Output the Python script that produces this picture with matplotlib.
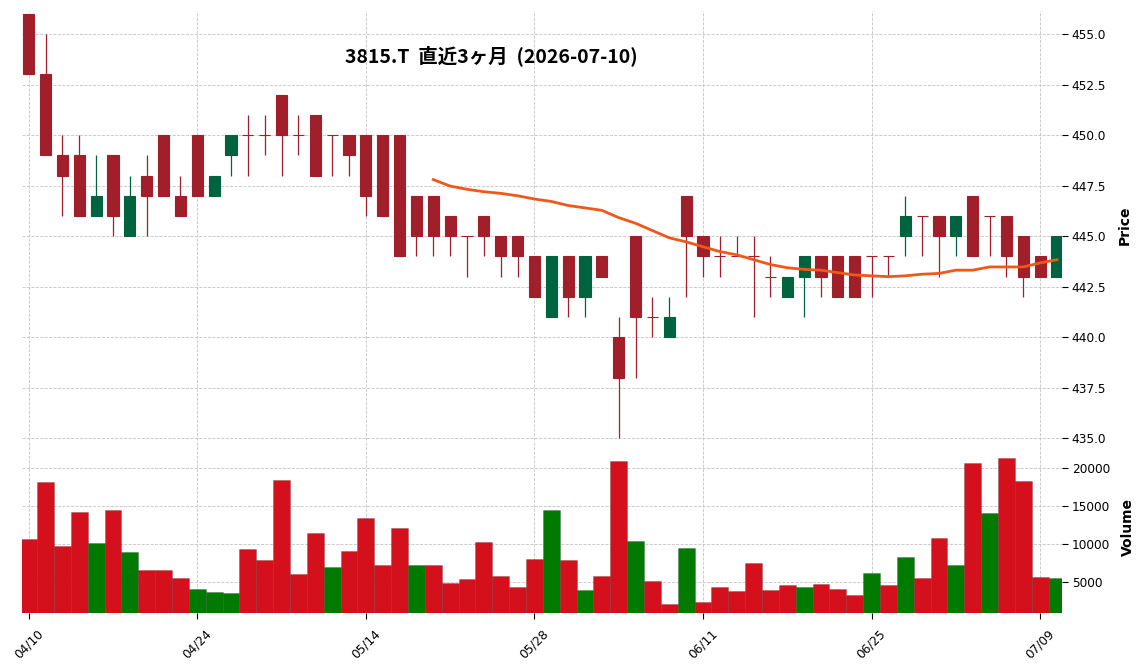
import numpy as np
import pandas as pd
import matplotlib
matplotlib.use('Agg')
import matplotlib.pyplot as plt

# trading days (TSE holidays removed)
holidays = ['2026-04-29', '2026-05-04', '2026-05-05', '2026-05-06']
dates = pd.bdate_range('2026-04-10', '2026-07-10', freq='C', holidays=holidays)

opens = [456, 453, 449, 449, 446, 449, 445, 448, 450, 447,
         450, 447, 449, 450, 450, 452, 450, 451, 450, 450,
         450, 450, 450, 447, 447, 446, 445, 446, 445, 445,
         444, 441, 444, 442, 444, 440, 445, 441, 440, 447,
         445, 444, 444, 444, 443, 442, 443, 444, 444, 444,
         444, 444, 445, 446, 446, 445, 447, 446, 446, 445,
         444, 443]
highs = [456, 455, 450, 450, 449, 449, 448, 449, 450, 448,
         450, 448, 450, 451, 451, 452, 451, 451, 450, 450,
         450, 450, 450, 447, 447, 446, 445, 446, 445, 445,
         444, 444, 444, 444, 444, 441, 445, 442, 442, 447,
         445, 445, 445, 445, 444, 443, 444, 444, 444, 444,
         444, 444, 447, 446, 446, 446, 447, 446, 446, 445,
         444, 445]
lows = [453, 449, 446, 446, 446, 445, 445, 445, 447, 446,
        447, 447, 448, 448, 449, 448, 449, 448, 448, 448,
        446, 446, 444, 444, 444, 444, 443, 444, 443, 443,
        442, 441, 441, 441, 443, 435, 438, 440, 440, 442,
        443, 443, 444, 441, 442, 442, 441, 442, 442, 442,
        442, 443, 444, 444, 443, 444, 444, 444, 443, 442,
        443, 443]
closes = [453, 449, 448, 446, 447, 446, 447, 447, 447, 446,
          447, 448, 450, 450, 450, 450, 450, 448, 450, 449,
          447, 446, 444, 445, 445, 445, 445, 445, 444, 444,
          442, 444, 442, 444, 443, 438, 441, 441, 441, 445,
          444, 444, 444, 444, 443, 443, 444, 443, 442, 442,
          444, 444, 446, 446, 445, 446, 444, 446, 444, 443,
          443, 445]
volumes = [10600, 18200, 9650, 14250, 10040, 14520, 8860, 6490, 6490, 5440,
           3990, 3600, 3460, 9250, 7810, 18470, 5960, 11360, 6890, 8990,
           13460, 7150, 12020, 7150, 7150, 4780, 5310, 10180, 5700, 4250,
           7940, 14520, 7810, 3860, 5700, 20960, 10310, 5040, 2020, 9390,
           2280, 4250, 3730, 7410, 3860, 4520, 4250, 4650, 3990, 3200,
           6100, 4520, 8200, 5440, 10700, 7150, 20700, 14120, 21360, 18330,
           5570, 5440]

title = '3815.T  直近3ヶ月  (2026-07-10)'

up_c, down_c = '#006340', '#a01f2a'
vup_c, vdown_c = '#007a00', '#d4101c'
ma_c = '#f0581a'
grid_kw = dict(color='#c4c4c4', linestyle='--', linewidth=0.6)

o = np.array(opens, float)
h = np.array(highs, float)
l = np.array(lows, float)
c = np.array(closes, float)
v = np.array(volumes, float)
x = np.arange(len(dates))

cc = np.where(c > o, up_c, down_c)
prev = np.r_[np.inf, c[:-1]]
vc = np.where(c > prev, vup_c, vdown_c)
ma = pd.Series(c).rolling(25).mean()

fig = plt.figure(figsize=(11.44, 6.70), dpi=100)
W, H = 1144, 670
ax1 = fig.add_axes([22 / W, 1 - 440 / H, (1062 - 22) / W, (440 - 11) / H])
ax2 = fig.add_axes([22 / W, 1 - 613 / H, (1062 - 22) / W, (613 - 440) / H], sharex=ax1)

# candles
ax1.vlines(x, l, h, colors=cc, linewidth=0.9, zorder=2)
ax1.bar(x, c - o, bottom=o, width=0.66, color=cc, edgecolor=cc, linewidth=0.8, zorder=3)
ax1.plot(x, ma, color=ma_c, linewidth=2, zorder=4)

# volume
ax2.bar(x, v, width=1.0, color=vc, edgecolor=(0, 0, 0, 0.2), linewidth=0.6, zorder=2)

ax1.set_xlim(-0.4, 61.3)
ax1.set_ylim(434.92, 456.14)
ax2.set_ylim(850, 23700)

ax1.set_yticks(np.arange(435, 455.1, 2.5))
ax1.set_yticklabels(['%.1f' % t for t in np.arange(435, 455.1, 2.5)])
ax2.set_yticks([5000, 10000, 15000, 20000])
ax2.set_yticklabels(['5000', '10000', '15000', '20000'])

ticks = x[::10]
ax2.set_xticks(ticks)
ax2.set_xticklabels(dates[::10].strftime('%m/%d'), rotation=45, ha='center')
plt.setp(ax1.get_xticklabels(), visible=False)

for ax in (ax1, ax2):
    for s in ax.spines.values():
        s.set_visible(False)
    ax.yaxis.tick_right()
    ax.yaxis.set_label_position('right')
    ax.tick_params(axis='y', length=4, width=0.8, labelsize=8.7, pad=3)
    ax.tick_params(axis='x', length=4, width=0.8, labelsize=8.7, pad=6)
    ax.grid(True, **grid_kw)
    ax.set_axisbelow(True)
ax1.tick_params(axis='x', length=0)

ax1.set_ylabel('Price', fontsize=10, fontweight='bold', labelpad=8)
ax2.set_ylabel('Volume', fontsize=10, fontweight='bold', labelpad=8)

fig.text(491 / W, 1 - 56 / H, title, ha='center', va='center', fontsize=14,
         fontweight='bold', family=['Noto Sans CJK JP', 'DejaVu Sans'])

fig.savefig('out.png', dpi=100)
